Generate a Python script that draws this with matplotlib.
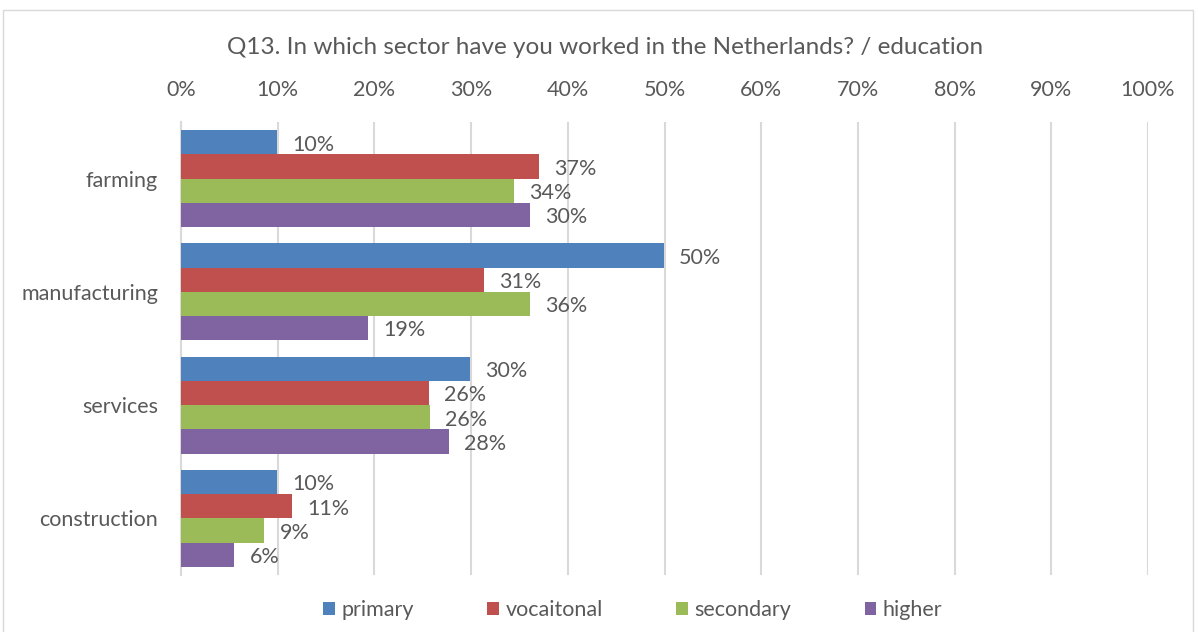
import matplotlib
matplotlib.use("Agg")
import matplotlib.pyplot as plt
import numpy as np
from matplotlib.patches import Rectangle

plt.rcParams["font.family"] = ["Lato", "DejaVu Sans"]

sectors = ["farming", "manufacturing", "services", "construction"]
series = ["primary", "vocaitonal", "secondary", "higher"]
colors = ["#4F81BD", "#C0504D", "#9BBB59", "#8064A2"]

# bar lengths in % (as drawn) and the data labels as printed
values = {
    "primary":    [9.9, 49.9, 29.9, 9.9],
    "vocaitonal": [37.0, 31.3, 25.6, 11.5],
    "secondary":  [34.4, 36.1, 25.7, 8.6],
    "higher":     [36.1, 19.3, 27.7, 5.5],
}
labels = {
    "primary":    ["10%", "50%", "30%", "10%"],
    "vocaitonal": ["37%", "31%", "26%", "11%"],
    "secondary":  ["34%", "36%", "26%", "9%"],
    "higher":     ["30%", "19%", "28%", "6%"],
}

text_col = "#595959"
grid_col = "#D9D9D9"
fs = 15.5

fig = plt.figure(figsize=(11.98, 6.32), dpi=100)
ax = fig.add_axes([181/1198, 1 - 575/632, (1148 - 181)/1198, (575 - 122)/632])

h = 0.214
y = np.arange(len(sectors))
for i, s in enumerate(series):
    pos = y - 1.5*h + i*h
    ax.barh(pos, values[s], height=h, color=colors[i], label=s, zorder=3)
    for p, v, lab in zip(pos, values[s], labels[s]):
        ax.text(v + 1.6, p + 0.02, lab, va="center", ha="left", fontsize=fs, color=text_col, zorder=4)

ax.set_xlim(0, 100)
ax.set_ylim(len(sectors) - 0.5, -0.5)
ax.set_xticks(np.arange(0, 101, 10))
ax.set_xticklabels([f"{t}%" for t in range(0, 101, 10)])
ax.xaxis.tick_top()
ax.set_yticks(y)
ax.set_yticklabels(sectors)
ax.tick_params(axis="both", length=0, labelsize=fs, colors=text_col)
ax.tick_params(axis="x", pad=16)
ax.tick_params(axis="y", pad=16.5)
ax.grid(axis="x", color=grid_col, linewidth=1.5, zorder=0)
for sp in ["top", "right", "bottom"]:
    ax.spines[sp].set_visible(False)
ax.spines["left"].set_color(grid_col)
ax.spines["left"].set_linewidth(1.5)

fig.text(605/1198, 1 - 47/632, "Q13. In which sector have you worked in the Netherlands? / education",
         ha="center", va="center", fontsize=17.5, color=text_col)

fig.legend(loc="center", bbox_to_anchor=(633/1198, 1 - 610/632), ncol=4, frameon=False,
           fontsize=fs, labelcolor=text_col, handlelength=0.55, handleheight=0.55,
           handletextpad=0.3, columnspacing=3.4)

fig.patches.append(Rectangle((3/1198, -0.01), 1190/1198, 1 - 10/632 + 0.01, transform=fig.transFigure,
                             fill=False, edgecolor="#D9D9D9", linewidth=1))

fig.savefig("out.png", dpi=100)
